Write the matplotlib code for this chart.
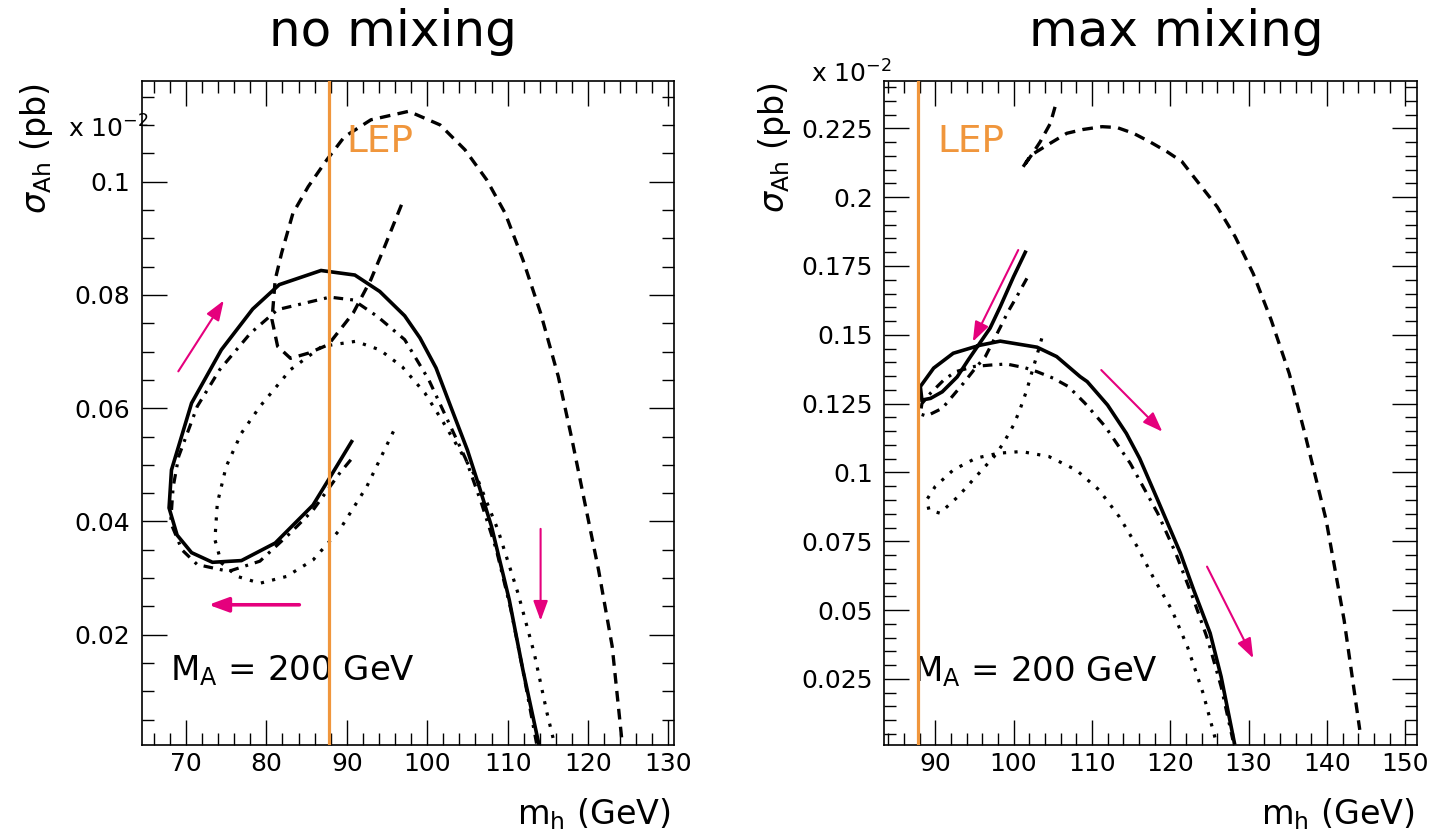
import matplotlib
matplotlib.use("Agg")
import matplotlib.pyplot as plt
from matplotlib.ticker import MultipleLocator, FuncFormatter

plt.rcParams['font.family'] = ['DejaVu Sans']
plt.rcParams['mathtext.fontset'] = 'dejavusans'

# ---------------- no mixing ----------------
nomix_solid_mh = [90.6, 87.7, 85.8, 81.1, 76.9, 73.3, 70.7, 68.9, 67.9, 68.2, 70.7,
                  74.4, 78.3, 81.6, 86.8, 91.0, 94.1, 97.2, 99.1, 101.1, 103.0, 105.0,
                  106.5, 108.0, 110.2, 111.9, 113.9]
nomix_solid_sig = [0.0541, 0.0473, 0.0429, 0.0362, 0.0331, 0.0328, 0.0345, 0.0376, 0.0424,
                   0.0491, 0.0609, 0.0703, 0.0775, 0.0818, 0.0843, 0.0835, 0.0806, 0.0763,
                   0.0724, 0.0671, 0.0600, 0.0526, 0.0460, 0.0391, 0.0262, 0.0138, 0.0006]

nomix_dashdot_mh = [90.5, 89.1, 85.8, 83.0, 79.2, 75.3, 71.4, 69.5, 68.1, 68.4, 69.1,
                    71.4, 74.2, 78.0, 81.4, 87.9, 90.8, 93.8, 97.2, 100.2, 102.5, 104.8,
                    106.8, 108.6, 110.4, 112.0, 113.6]
nomix_dashdot_sig = [0.0509, 0.0485, 0.0420, 0.0380, 0.0330, 0.0312, 0.0324, 0.0350, 0.0398,
                     0.0460, 0.0515, 0.0603, 0.0668, 0.0732, 0.0774, 0.0796, 0.0791, 0.0762,
                     0.0721, 0.0650, 0.0580, 0.0510, 0.0430, 0.0350, 0.0245, 0.0130, 0.0008]

nomix_dotted_mh = [95.8, 92.5, 89.1, 85.8, 82.5, 79.2, 76.4, 74.4, 73.6, 73.9, 75.0,
                   76.9, 79.2, 83.0, 86.9, 91.1, 94.1, 96.9, 99.7, 102.0, 104.3, 106.4,
                   108.8, 111.3, 113.3, 114.9, 115.7]
nomix_dotted_sig = [0.0559, 0.0462, 0.0385, 0.0332, 0.0303, 0.0291, 0.0303, 0.0327, 0.0368,
                    0.0432, 0.0497, 0.0556, 0.0603, 0.0668, 0.0709, 0.0718, 0.0703, 0.0673,
                    0.0627, 0.0575, 0.0520, 0.0470, 0.0385, 0.0273, 0.0168, 0.0062, 0.0015]

nomix_dashed_mh = [96.8, 94.7, 93.0, 90.8, 87.7, 85.2, 83.0, 81.4, 80.7, 81.1, 81.9,
                   83.3, 85.2, 87.5, 89.7, 93.0, 97.7, 101.6, 104.7, 107.4, 109.7, 111.9,
                   114.1, 116.3, 118.0, 119.6, 121.3, 123.0, 124.2]
nomix_dashed_sig = [0.0959, 0.0885, 0.0827, 0.0768, 0.0712, 0.0697, 0.0688, 0.0709, 0.0756,
                    0.0827, 0.0874, 0.0944, 0.0991, 0.1038, 0.1079, 0.1109, 0.1124, 0.1100,
                    0.1056, 0.1003, 0.0944, 0.0862, 0.0768, 0.0656, 0.0545, 0.0433, 0.0315,
                    0.0180, 0.0015]

# ---------------- max mixing ----------------
maxmix_solid_mh = [101.5, 100.0, 98.3, 97.0, 95.5, 94.2, 92.8, 90.9, 89.4, 88.3, 88.1,
                   89.8, 92.3, 95.7, 98.3, 103.0, 105.5, 108.5, 109.4, 112.0, 114.4,
                   116.1, 118.4, 121.3, 123.0, 125.1, 126.5, 128.2]
maxmix_solid_sig = [0.1800, 0.1711, 0.1602, 0.1524, 0.1462, 0.1408, 0.1347, 0.1293, 0.1269,
                    0.1263, 0.1312, 0.1379, 0.1433, 0.1462, 0.1477, 0.1455, 0.1421, 0.1348,
                    0.1330, 0.1245, 0.1142, 0.1051, 0.0900, 0.0707, 0.0573, 0.0416, 0.0258,
                    0.0017]

maxmix_dashdot_mh = [101.7, 100.4, 99.3, 98.3, 96.4, 95.1, 93.6, 90.9, 88.9, 88.1, 88.3,
                     89.4, 91.1, 92.6, 95.0, 97.0, 99.1, 101.5, 103.0, 105.1, 107.0, 109.1,
                     111.7, 114.9, 118.4, 120.7, 123.0, 124.8, 126.5, 128.0]
maxmix_dashdot_sig = [0.1705, 0.1638, 0.1584, 0.1527, 0.1421, 0.1378, 0.1324, 0.1233, 0.1205,
                      0.1212, 0.1250, 0.1288, 0.1336, 0.1366, 0.1385, 0.1390, 0.1394, 0.1380,
                      0.1366, 0.1342, 0.1312, 0.1252, 0.1167, 0.1033, 0.0852, 0.0707, 0.0537,
                      0.0392, 0.0222, 0.0028]

maxmix_dotted_mh = [103.6, 103.0, 102.3, 101.7, 100.8, 100.0, 98.7, 97.5, 95.2, 92.9, 90.6,
                    89.2, 88.9, 90.0, 92.3, 95.2, 98.1, 101.0, 104.5, 108.0, 110.9, 113.5,
                    115.8, 117.8, 120.2, 122.2, 124.2, 125.8]
maxmix_dotted_sig = [0.1487, 0.1427, 0.1360, 0.1300, 0.1227, 0.1172, 0.1106, 0.1057, 0.0985,
                     0.0912, 0.0852, 0.0864, 0.0900, 0.0949, 0.1009, 0.1052, 0.1070, 0.1076,
                     0.1058, 0.1009, 0.0937, 0.0839, 0.0730, 0.0621, 0.0501, 0.0367, 0.0198,
                     0.0028]

maxmix_dashed_mh = [105.3, 104.7, 103.4, 102.3, 101.1, 102.2, 104.7, 106.8, 108.9, 111.3,
                    113.2, 115.3, 117.4, 119.6, 121.5, 123.0, 126.0, 128.3, 130.6, 132.9,
                    135.2, 137.2, 139.9, 142.2, 144.2]
maxmix_dashed_sig = [0.2328, 0.2268, 0.2201, 0.2153, 0.2105, 0.2152, 0.2196, 0.2232, 0.2246,
                     0.2256, 0.2253, 0.2232, 0.2201, 0.2165, 0.2129, 0.2074, 0.1965, 0.1856,
                     0.1722, 0.1553, 0.1359, 0.1140, 0.0828, 0.0464, 0.0065]

LEP_MH = 87.8

# direction arrows: (start mh, start sigma, end mh, end sigma, thick)
nomix_arrows = [(69.05, 0.0665, 74.7, 0.0790, False),
                (84.1, 0.0253, 72.8, 0.0253, True),
                (114.1, 0.0387, 114.1, 0.0225, False)]
maxmix_arrows = [(100.6, 0.1808, 94.8, 0.1475, False),
                 (111.2, 0.1372, 119.0, 0.1148, False),
                 (124.7, 0.0658, 130.6, 0.0325, False)]

ORANGE = '#f0963c'
MAGENTA = '#e5007d'

fig = plt.figure(figsize=(14.33, 8.38), dpi=100)
axL = fig.add_axes([0.0989, 0.1113, 0.3715, 0.7924])
axR = fig.add_axes([0.6171, 0.1113, 0.3717, 0.7924])


def draw_curves(ax, solid, dashdot, dotted, dashed):
    ax.plot(*solid, color='black', lw=2.6, solid_joinstyle='miter', zorder=3)
    ax.plot(*dashdot, color='black', lw=2.3, dashes=(3.0, 2.2, 0.9, 2.2),
            dash_capstyle='butt', zorder=3)
    ax.plot(*dotted, color='black', lw=2.3, dashes=(1.0, 2.6),
            dash_capstyle='butt', zorder=3)
    ax.plot(*dashed, color='black', lw=2.4, dashes=(3.2, 2.2),
            dash_capstyle='butt', zorder=3)


def draw_arrows(ax, arrows):
    for x0, y0, x1, y1, thick in arrows:
        ax.annotate('', xy=(x1, y1), xytext=(x0, y0),
                    arrowprops=dict(arrowstyle='-|>,head_length=0.6,head_width=0.22',
                                    color=MAGENTA, lw=2.6 if thick else 1.5,
                                    shrinkA=0, shrinkB=0, mutation_scale=20),
                    zorder=4)


def style_axes(ax, xlim, ylim, ymajor):
    ax.set_xlim(*xlim)
    ax.set_ylim(*ylim)
    ax.xaxis.set_major_locator(MultipleLocator(10))
    ax.xaxis.set_minor_locator(MultipleLocator(2))
    ax.yaxis.set_major_locator(MultipleLocator(ymajor))
    ax.yaxis.set_minor_locator(MultipleLocator(0.005))
    fmt = FuncFormatter(lambda v, p: f'{v:g}')
    ax.xaxis.set_major_formatter(fmt)
    ax.yaxis.set_major_formatter(fmt)
    ax.tick_params(which='both', direction='in', top=True, right=True,
                   width=1.0, color='black')
    ax.tick_params(which='major', length=18, labelsize=18)
    ax.tick_params(which='minor', length=8.6)
    ax.tick_params(axis='y', pad=8)
    ax.tick_params(axis='x', pad=5)
    for s in ax.spines.values():
        s.set_linewidth(1.2)
    ax.axvline(LEP_MH, color=ORANGE, lw=2.3, zorder=5)


draw_curves(axL, (nomix_solid_mh, nomix_solid_sig), (nomix_dashdot_mh, nomix_dashdot_sig),
            (nomix_dotted_mh, nomix_dotted_sig), (nomix_dashed_mh, nomix_dashed_sig))
draw_arrows(axL, nomix_arrows)
style_axes(axL, (64.5, 130.7), (0.0006, 0.1178), 0.02)

draw_curves(axR, (maxmix_solid_mh, maxmix_solid_sig), (maxmix_dashdot_mh, maxmix_dashdot_sig),
            (maxmix_dotted_mh, maxmix_dotted_sig), (maxmix_dashed_mh, maxmix_dashed_sig))
draw_arrows(axR, maxmix_arrows)
style_axes(axR, (83.5, 151.5), (0.0011, 0.2423), 0.025)

for ax, lep_x, ma_x, ma_y in [(axL, 0.384, 0.053, 0.097), (axR, 0.099, 0.054, 0.095)]:
    ax.text(lep_x, 0.893, 'LEP', transform=ax.transAxes, color=ORANGE,
            fontsize=27, va='baseline', ha='left', zorder=6)
    ax.text(ma_x, ma_y, r'M$_{\mathregular{A}}$ = 200 GeV', transform=ax.transAxes,
            fontsize=24.5, va='baseline', ha='left', zorder=2)

# titles
fig.text(0.2743, 0.945, 'no mixing', fontsize=36, ha='center', va='baseline')
fig.text(0.8207, 0.945, 'max mixing', fontsize=36, ha='center', va='baseline')

# axis titles
ylab = r'$\sigma_{\mathregular{Ah}}$ (pb)'
xlab = r'm$_{\mathregular{h}}$ (GeV)'
fig.text(0.0258, 0.901, ylab, fontsize=24, rotation=90, ha='right', va='center',
         rotation_mode='anchor')
fig.text(0.5408, 0.902, ylab, fontsize=24, rotation=90, ha='right', va='center',
         rotation_mode='anchor')
fig.text(0.4683, 0.016, xlab, fontsize=24, ha='right', va='baseline')
fig.text(0.9874, 0.016, xlab, fontsize=24, ha='right', va='baseline')

# exponent labels
fig.text(0.0475, 0.8353, r'x 10$^{-2}$', fontsize=18, ha='left', va='baseline')
fig.text(0.566, 0.901, r'x 10$^{-2}$', fontsize=18, ha='left', va='baseline')

fig.savefig('out.png', dpi=100)
